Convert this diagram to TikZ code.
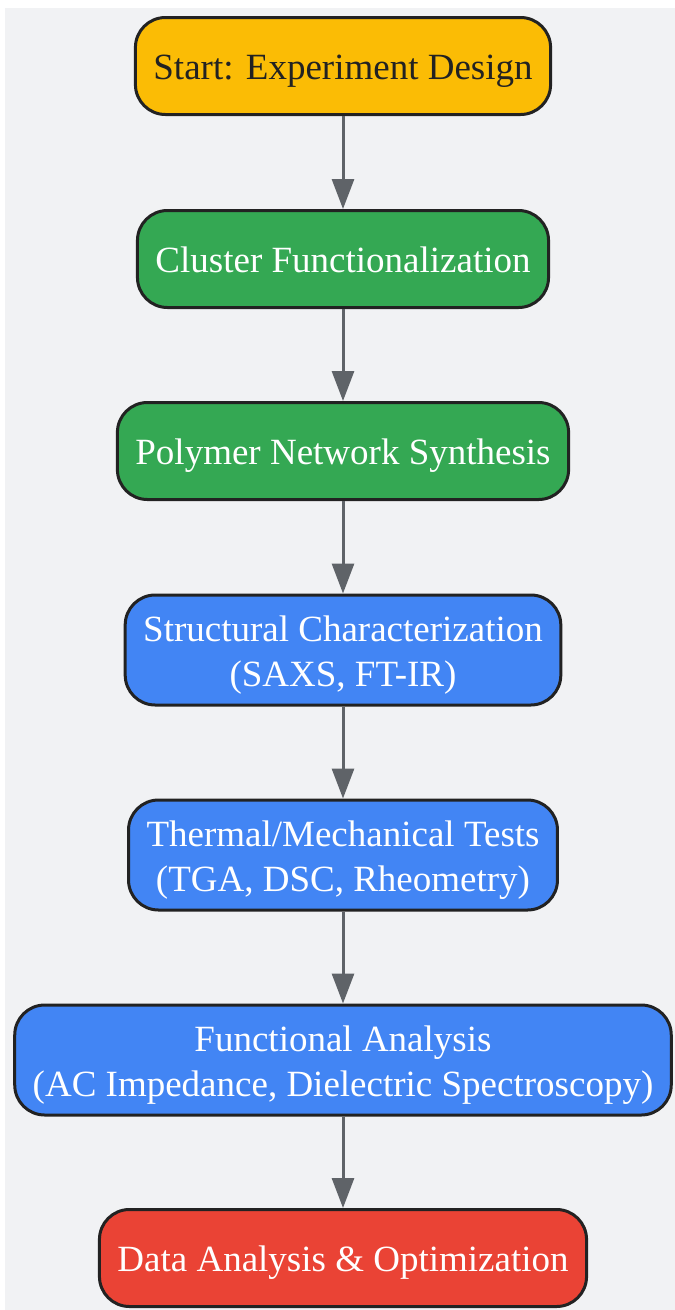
\documentclass[tikz,border=0pt]{standalone}
\usepackage{fontspec}
\setmainfont{Liberation Serif}
\usetikzlibrary{arrows.meta}
\definecolor{bgpanel}{HTML}{F1F2F4}
\definecolor{edgegray}{HTML}{5F6368}
\definecolor{boxline}{HTML}{222222}
\definecolor{startyellow}{HTML}{FBBC05}
\definecolor{prepgreen}{HTML}{34A853}
\definecolor{testblue}{HTML}{4285F4}
\definecolor{endred}{HTML}{EA4335}
\begin{document}
\begin{tikzpicture}[x=1pt,y=-1pt,>={Triangle[width=22pt,length=30pt]},
		font=\fontsize{37}{45}\selectfont]
		\tikzset{stage/.style={draw=boxline,line width=3pt,rounded corners=30pt,
				minimum height=97pt,inner xsep=18pt,align=center,text=white,
				text height=35pt,text depth=8pt},
			tallstage/.style={stage,minimum height=110pt,text height=80pt},
			flow/.style={->,draw=edgegray,line width=3pt}}
		\useasboundingbox (0,0) rectangle (675,1310);
		\fill[bgpanel] (5,8) rectangle (675,1310);
		%--------- Các bước
		\node[stage,fill=startyellow,text=boxline] (design) at (343,66) {Start: Experiment Design};
		\node[stage,fill=prepgreen] (cluster) at (343,259) {Cluster Functionalization};
		\node[stage,fill=prepgreen] (network) at (343,451) {Polymer Network Synthesis};
		\node[tallstage,fill=testblue] (structure) at (343,650) {Structural Characterization\\(SAXS, FT-IR)};
		\node[tallstage,fill=testblue] (thermal) at (343,855) {Thermal/Mechanical Tests\\(TGA, DSC, Rheometry)};
		\node[tallstage,fill=testblue] (impedance) at (343,1060) {Functional Analysis\\(AC Impedance, Dielectric Spectroscopy)};
		\node[stage,fill=endred] (optimize) at (343,1258) {Data Analysis \& Optimization};
		%--------- Mũi tên
		\draw[flow] (design) -- (cluster);
		\draw[flow] (cluster) -- (network);
		\draw[flow] (network) -- (structure);
		\draw[flow] (structure) -- (thermal);
		\draw[flow] (thermal) -- (impedance);
		\draw[flow] (impedance) -- (optimize);
	\end{tikzpicture}
\end{document}
